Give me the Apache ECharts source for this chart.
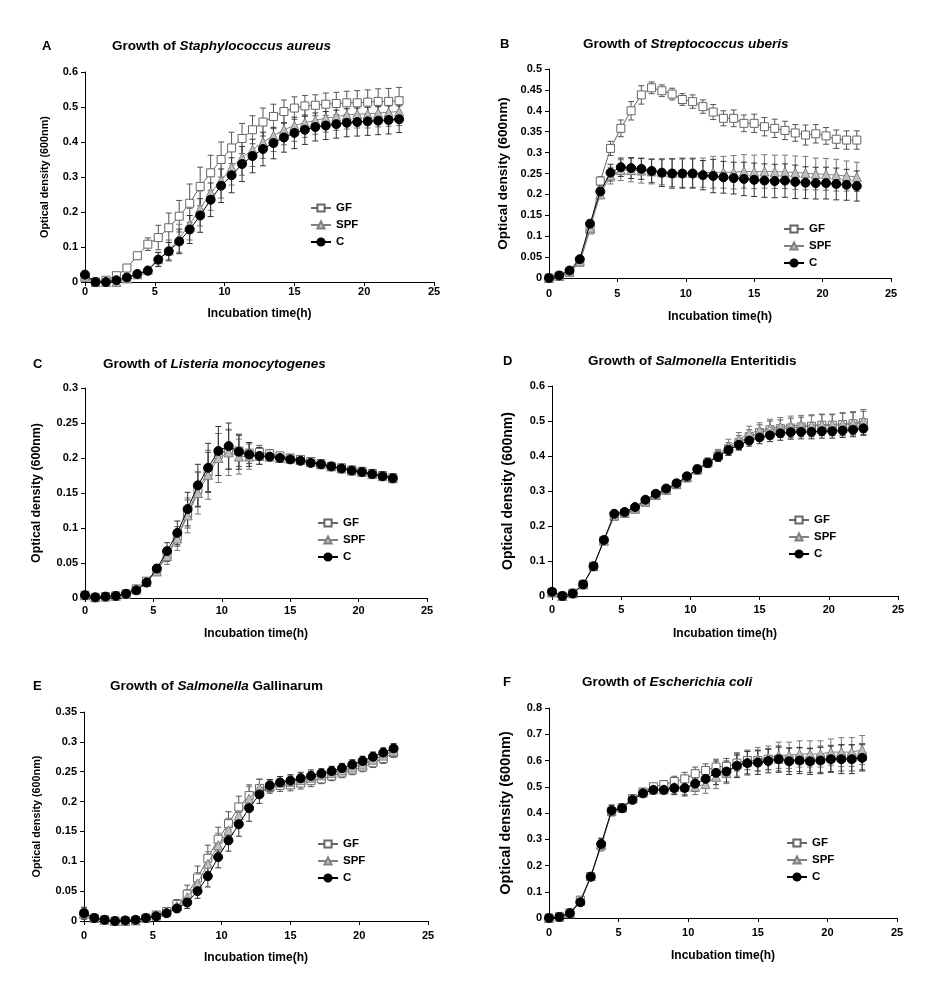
<!DOCTYPE html>
<html><head><meta charset="utf-8">
<script src="https://cdn.jsdelivr.net/npm/echarts@6/dist/echarts.min.js"></script>
<style>html,body{margin:0;padding:0;background:#fff;}#c{width:945px;height:1001px;}</style>
</head><body><div id="c"></div>
<script>
// Time points (h)
var time = [0,0.75,1.5,2.25,3,3.75,4.5,5.25,6,6.75,7.5,8.25,9,9.75,10.5,11.25,12,12.75,13.5,14.25,15,15.75,16.5,17.25,18,18.75,19.5,20.25,21,21.75,22.5];
var seriesNames = ['GF','SPF','C'];
var xTicks = [0,5,10,15,20,25];

// Panel A: Staphylococcus aureus
var A_GF  = [0.015,0,0.005,0.018,0.04,0.075,0.108,0.127,0.155,0.188,0.225,0.273,0.312,0.35,0.383,0.41,0.435,0.457,0.473,0.487,0.497,0.503,0.505,0.508,0.51,0.512,0.512,0.514,0.516,0.516,0.518];
var A_SPF = [0.015,0,0,0,0.01,0.022,0.035,0.065,0.09,0.125,0.165,0.21,0.255,0.29,0.327,0.355,0.378,0.4,0.418,0.435,0.447,0.455,0.462,0.468,0.473,0.477,0.48,0.48,0.483,0.485,0.487];
var A_C   = [0.021,0,0,0.005,0.013,0.023,0.032,0.064,0.088,0.116,0.15,0.19,0.235,0.275,0.305,0.337,0.36,0.38,0.397,0.413,0.426,0.435,0.443,0.447,0.451,0.455,0.457,0.459,0.461,0.463,0.465];
var A_GF_err  = [0.005,0.003,0.003,0.004,0.006,0.01,0.018,0.035,0.042,0.045,0.055,0.055,0.05,0.05,0.045,0.043,0.04,0.04,0.035,0.033,0.032,0.03,0.03,0.032,0.032,0.033,0.035,0.035,0.036,0.037,0.038];
var A_SPF_err = [0.005,0.003,0.003,0.004,0.005,0.006,0.01,0.02,0.03,0.04,0.045,0.05,0.05,0.05,0.05,0.05,0.048,0.047,0.045,0.043,0.045,0.042,0.04,0.04,0.04,0.04,0.04,0.04,0.04,0.04,0.04];
var A_C_err   = [0.01,0.003,0.003,0.004,0.005,0.006,0.008,0.02,0.025,0.035,0.04,0.048,0.048,0.048,0.05,0.05,0.048,0.048,0.045,0.042,0.045,0.042,0.04,0.04,0.04,0.04,0.04,0.04,0.04,0.04,0.038];

// Panel B: Streptococcus uberis
var B_GF  = [0,0.005,0.013,0.038,0.115,0.232,0.31,0.358,0.4,0.438,0.455,0.448,0.44,0.427,0.422,0.41,0.397,0.382,0.382,0.37,0.37,0.362,0.358,0.353,0.347,0.342,0.345,0.34,0.332,0.33,0.33];
var B_SPF = [0,0.005,0.015,0.04,0.12,0.2,0.245,0.258,0.258,0.257,0.255,0.253,0.252,0.252,0.252,0.252,0.253,0.253,0.253,0.255,0.254,0.255,0.254,0.254,0.252,0.251,0.249,0.248,0.246,0.244,0.242];
var B_C   = [0,0.006,0.018,0.045,0.13,0.207,0.252,0.265,0.263,0.261,0.256,0.252,0.25,0.25,0.25,0.246,0.244,0.241,0.239,0.237,0.235,0.233,0.232,0.233,0.23,0.228,0.227,0.227,0.225,0.223,0.22];
var B_GF_err  = [0.002,0.002,0.003,0.004,0.008,0.01,0.017,0.02,0.022,0.022,0.014,0.014,0.014,0.014,0.016,0.016,0.018,0.018,0.02,0.02,0.022,0.022,0.022,0.022,0.02,0.024,0.022,0.02,0.022,0.022,0.022];
var B_SPF_err = [0.002,0.002,0.003,0.004,0.008,0.01,0.02,0.025,0.028,0.03,0.03,0.03,0.033,0.035,0.035,0.035,0.038,0.038,0.04,0.04,0.04,0.04,0.04,0.04,0.04,0.04,0.038,0.038,0.038,0.036,0.035];
var B_C_err   = [0.002,0.002,0.003,0.004,0.008,0.01,0.02,0.022,0.025,0.025,0.028,0.033,0.035,0.035,0.035,0.035,0.04,0.038,0.038,0.04,0.04,0.04,0.04,0.04,0.04,0.038,0.038,0.038,0.038,0.037,0.036];

// Panel C: Listeria monocytogenes
var C_GF  = [0.004,0.001,0.002,0.003,0.006,0.013,0.024,0.04,0.062,0.088,0.12,0.155,0.18,0.205,0.212,0.21,0.207,0.208,0.206,0.203,0.2,0.198,0.195,0.192,0.188,0.186,0.183,0.181,0.178,0.175,0.172];
var C_SPF = [0.004,0.001,0.002,0.003,0.006,0.012,0.023,0.038,0.06,0.085,0.118,0.15,0.176,0.2,0.208,0.202,0.202,0.203,0.202,0.2,0.199,0.197,0.194,0.191,0.188,0.185,0.182,0.18,0.177,0.174,0.171];
var C_C   = [0.004,0.001,0.002,0.003,0.006,0.011,0.022,0.042,0.067,0.093,0.127,0.161,0.186,0.21,0.217,0.209,0.205,0.203,0.202,0.2,0.198,0.196,0.193,0.191,0.188,0.185,0.182,0.18,0.177,0.174,0.171];
var C_GF_err  = [0.002,0.001,0.001,0.001,0.002,0.003,0.004,0.006,0.01,0.014,0.02,0.025,0.028,0.03,0.028,0.022,0.015,0.01,0.006,0.005,0.005,0.005,0.005,0.005,0.005,0.005,0.005,0.005,0.005,0.005,0.005];
var C_SPF_err = [0.002,0.001,0.001,0.001,0.002,0.003,0.004,0.006,0.012,0.017,0.025,0.03,0.035,0.035,0.033,0.025,0.018,0.012,0.006,0.005,0.005,0.005,0.005,0.005,0.005,0.005,0.005,0.005,0.005,0.005,0.005];
var C_C_err   = [0.002,0.001,0.001,0.001,0.002,0.003,0.004,0.006,0.012,0.017,0.024,0.03,0.035,0.035,0.033,0.025,0.017,0.012,0.006,0.005,0.005,0.005,0.005,0.005,0.005,0.005,0.005,0.005,0.005,0.005,0.005];

// Panel D: Salmonella Enteritidis
var D_GF  = [0.01,0,0.008,0.033,0.085,0.158,0.228,0.236,0.248,0.268,0.287,0.302,0.318,0.338,0.36,0.38,0.4,0.42,0.438,0.455,0.467,0.475,0.478,0.48,0.483,0.485,0.488,0.488,0.49,0.492,0.495];
var D_SPF = [0.01,0,0.008,0.033,0.085,0.158,0.23,0.238,0.25,0.27,0.289,0.304,0.32,0.34,0.362,0.382,0.404,0.428,0.447,0.465,0.473,0.48,0.484,0.486,0.488,0.488,0.49,0.49,0.492,0.495,0.5];
var D_C   = [0.012,0,0.007,0.033,0.085,0.16,0.235,0.24,0.254,0.275,0.292,0.307,0.322,0.342,0.362,0.38,0.398,0.417,0.432,0.444,0.453,0.459,0.465,0.468,0.469,0.469,0.471,0.471,0.473,0.475,0.479];
var D_GF_err  = [0.003,0.002,0.003,0.004,0.004,0.005,0.005,0.005,0.006,0.007,0.008,0.008,0.01,0.012,0.012,0.013,0.015,0.018,0.02,0.02,0.022,0.025,0.025,0.028,0.028,0.03,0.03,0.03,0.032,0.032,0.033];
var D_SPF_err = [0.003,0.002,0.003,0.004,0.004,0.005,0.005,0.005,0.006,0.007,0.008,0.008,0.01,0.012,0.012,0.013,0.015,0.02,0.02,0.02,0.022,0.025,0.026,0.028,0.028,0.03,0.03,0.03,0.032,0.032,0.033];
var D_C_err   = [0.003,0.002,0.003,0.004,0.004,0.005,0.005,0.005,0.006,0.007,0.008,0.008,0.01,0.01,0.012,0.012,0.013,0.015,0.015,0.016,0.018,0.018,0.02,0.02,0.02,0.02,0.02,0.02,0.02,0.02,0.02];

// Panel E: Salmonella Gallinarum
var E_GF  = [0.012,0.005,0.002,0,0,0.001,0.005,0.01,0.016,0.028,0.045,0.072,0.105,0.137,0.163,0.191,0.21,0.222,0.224,0.227,0.228,0.231,0.235,0.238,0.243,0.248,0.253,0.258,0.265,0.272,0.282];
var E_SPF = [0.012,0.005,0.002,0,0,0.001,0.005,0.009,0.015,0.025,0.04,0.063,0.096,0.127,0.152,0.177,0.205,0.223,0.226,0.232,0.233,0.236,0.24,0.244,0.248,0.252,0.257,0.262,0.27,0.277,0.285];
var E_C   = [0.013,0.005,0.002,0,0.001,0.002,0.005,0.008,0.013,0.021,0.031,0.05,0.075,0.107,0.135,0.162,0.189,0.212,0.227,0.232,0.235,0.239,0.243,0.247,0.251,0.256,0.262,0.268,0.275,0.282,0.289];
var E_GF_err  = [0.008,0.004,0.002,0.002,0.002,0.002,0.002,0.004,0.005,0.008,0.015,0.02,0.022,0.02,0.02,0.018,0.018,0.015,0.01,0.01,0.01,0.01,0.01,0.008,0.008,0.008,0.008,0.008,0.008,0.008,0.008];
var E_SPF_err = [0.008,0.004,0.002,0.002,0.002,0.002,0.002,0.004,0.005,0.008,0.012,0.018,0.02,0.02,0.02,0.018,0.02,0.015,0.01,0.01,0.01,0.01,0.01,0.008,0.008,0.008,0.008,0.008,0.008,0.008,0.008];
var E_C_err   = [0.01,0.004,0.002,0.002,0.002,0.002,0.002,0.004,0.005,0.006,0.01,0.012,0.018,0.018,0.018,0.02,0.022,0.015,0.01,0.01,0.01,0.01,0.01,0.008,0.008,0.008,0.008,0.008,0.008,0.008,0.008];

// Panel F: Escherichia coli
var F_GF  = [0,0.005,0.02,0.068,0.158,0.275,0.405,0.42,0.455,0.48,0.5,0.508,0.52,0.53,0.55,0.562,0.575,0.578,0.59,0.6,0.6,0.605,0.605,0.603,0.603,0.6,0.605,0.608,0.61,0.61,0.615];
var F_SPF = [0,0.005,0.018,0.065,0.16,0.28,0.41,0.42,0.455,0.478,0.49,0.49,0.5,0.5,0.5,0.51,0.538,0.552,0.585,0.595,0.605,0.61,0.62,0.62,0.625,0.625,0.625,0.632,0.632,0.632,0.64];
var F_C   = [0,0.004,0.018,0.06,0.157,0.282,0.41,0.418,0.45,0.475,0.488,0.488,0.495,0.495,0.512,0.53,0.553,0.558,0.58,0.59,0.592,0.598,0.605,0.597,0.6,0.597,0.6,0.605,0.605,0.605,0.61];
var F_GF_err  = [0.003,0.003,0.005,0.008,0.01,0.012,0.015,0.012,0.012,0.012,0.012,0.015,0.02,0.025,0.025,0.025,0.03,0.03,0.03,0.035,0.04,0.04,0.045,0.045,0.045,0.045,0.05,0.05,0.05,0.05,0.05];
var F_SPF_err = [0.003,0.003,0.005,0.008,0.01,0.025,0.02,0.015,0.012,0.012,0.015,0.015,0.025,0.03,0.03,0.035,0.045,0.04,0.045,0.045,0.045,0.045,0.05,0.05,0.05,0.05,0.05,0.05,0.055,0.055,0.055];
var F_C_err   = [0.003,0.003,0.005,0.008,0.01,0.02,0.02,0.015,0.012,0.012,0.015,0.015,0.025,0.03,0.03,0.035,0.045,0.04,0.045,0.045,0.045,0.045,0.05,0.05,0.05,0.05,0.05,0.05,0.055,0.055,0.05];

var yMax = [0.6, 0.5, 0.3, 0.6, 0.35, 0.8];
var yStep = [0.1, 0.05, 0.05, 0.1, 0.05, 0.1];

var panels = [
  {letter:'A', pre:'Growth of ', it:'Staphylococcus aureus', post:'', vals:[A_GF,A_SPF,A_C], errs:[A_GF_err,A_SPF_err,A_C_err],
   grid:{left:85,top:72,width:349,height:210}, letterX:42, titleX:112, titleY:47, legX:310, legY:208,
   yNameGap:34, yNameSize:10.8, xLabMargin:4, xNameGap:26},
  {letter:'B', pre:'Growth of ', it:'Streptococcus uberis', post:'', vals:[B_GF,B_SPF,B_C], errs:[B_GF_err,B_SPF_err,B_C_err],
   grid:{left:549,top:69,width:342,height:209}, letterX:500, titleX:583, titleY:45, legX:783, legY:229,
   yNameGap:39, yNameSize:13.5, xLabMargin:10, xNameGap:33},
  {letter:'C', pre:'Growth of ', it:'Listeria monocytogenes', post:'', vals:[C_GF,C_SPF,C_C], errs:[C_GF_err,C_SPF_err,C_C_err],
   grid:{left:85,top:388,width:342,height:210}, letterX:33, titleX:103, titleY:365, legX:317, legY:523,
   yNameGap:42, yNameSize:12.4, xLabMargin:7, xNameGap:30},
  {letter:'D', pre:'Growth of ', it:'Salmonella', post:' Enteritidis', vals:[D_GF,D_SPF,D_C], errs:[D_GF_err,D_SPF_err,D_C_err],
   grid:{left:552,top:386,width:346,height:210}, letterX:503, titleX:588, titleY:362, legX:788, legY:520,
   yNameGap:37, yNameSize:14, xLabMargin:8, xNameGap:32},
  {letter:'E', pre:'Growth of ', it:'Salmonella', post:' Gallinarum', vals:[E_GF,E_SPF,E_C], errs:[E_GF_err,E_SPF_err,E_C_err],
   grid:{left:84,top:712,width:344,height:209}, letterX:33, titleX:110, titleY:687, legX:317, legY:844,
   yNameGap:41, yNameSize:10.8, xLabMargin:9, xNameGap:31},
  {letter:'F', pre:'Growth of ', it:'Escherichia coli', post:'', vals:[F_GF,F_SPF,F_C], errs:[F_GF_err,F_SPF_err,F_C_err],
   grid:{left:549,top:708,width:348,height:210}, letterX:503, titleX:582, titleY:683, legX:786, legY:843,
   yNameGap:36, yNameSize:14.5, xLabMargin:9, xNameGap:32}
];

var FONT = '"Liberation Sans", Arial, sans-serif';
var styles = [
  {symbol:'rect', size:8, fill:'#ffffff', border:'#666666', line:'#666666', err:'#555555'},
  {symbol:'triangle', size:9, fill:'#bfbfbf', border:'#808080', line:'#808080', err:'#777777'},
  {symbol:'circle', size:9, fill:'#000000', border:'#000000', line:'#000000', err:'#333333'}
];

var option = {backgroundColor:'#ffffff', animation:false, grid:[], xAxis:[], yAxis:[], series:[], title:[], legend:[]};

panels.forEach(function(p, k){
  option.grid.push({left:p.grid.left, top:p.grid.top, width:p.grid.width, height:p.grid.height, containLabel:false});
  option.xAxis.push({type:'value', gridIndex:k, min:0, max:25, interval:5,
    name:'Incubation time(h)', nameLocation:'middle', nameGap:p.xNameGap,
    nameTextStyle:{fontFamily:FONT, fontWeight:'bold', fontSize:12, color:'#000'},
    axisLine:{lineStyle:{color:'#000', width:1}}, axisTick:{length:4, lineStyle:{color:'#000'}},
    axisLabel:{fontFamily:FONT, fontWeight:'bold', fontSize:11, color:'#000', margin:p.xLabMargin},
    splitLine:{show:false}});
  option.yAxis.push({type:'value', gridIndex:k, min:0, max:yMax[k], interval:yStep[k],
    name:'Optical density (600nm)', nameLocation:'middle', nameGap:p.yNameGap,
    nameTextStyle:{fontFamily:FONT, fontWeight:'bold', fontSize:p.yNameSize, color:'#000'},
    axisLine:{show:true, lineStyle:{color:'#000', width:1}}, axisTick:{show:true, length:4, lineStyle:{color:'#000'}},
    axisLabel:{fontFamily:FONT, fontWeight:'bold', fontSize:11, color:'#000', margin:7},
    splitLine:{show:false}});
  option.title.push({text:p.letter, left:p.letterX, top:p.titleY-7, padding:0,
    textStyle:{fontFamily:FONT, fontWeight:'bold', fontSize:13, color:'#000'}});
  option.title.push({text:p.pre + '{i|' + p.it + '}' + p.post, left:p.titleX, top:p.titleY-8, padding:0,
    textStyle:{fontFamily:FONT, fontWeight:'bold', fontSize:13.5, color:'#000',
      rich:{i:{fontFamily:FONT, fontWeight:'bold', fontStyle:'italic', fontSize:13.5, color:'#000'}}}});
  option.legend.push({orient:'vertical', left:p.legX, top:p.legY-7, data:seriesNames, padding:0,
    itemWidth:20, itemHeight:9, itemGap:3,
    textStyle:{fontFamily:FONT, fontWeight:'bold', fontSize:11.5, color:'#000', lineHeight:14}});

  for (var s = 0; s < 3; s++) {
    (function(s){
      var st = styles[s];
      var vals = p.vals[s], errs = p.errs[s];
      var errData = time.map(function(t,i){ return [t, vals[i], errs[i]]; });
      option.series.push({type:'custom', name:seriesNames[s]+'_err'+k, xAxisIndex:k, yAxisIndex:k, z:1, silent:true,
        data:errData,
        renderItem:function(params, api){
          var x = api.value(0), y = api.value(1), e = api.value(2);
          var hi = api.coord([x, y + e]), lo = api.coord([x, Math.max(0, y - e)]);
          var hw = 3;
          return {type:'group', children:[
            {type:'line', shape:{x1:hi[0], y1:hi[1], x2:lo[0], y2:lo[1]}, style:{stroke:st.err, lineWidth:1}},
            {type:'line', shape:{x1:hi[0]-hw, y1:hi[1], x2:hi[0]+hw, y2:hi[1]}, style:{stroke:st.err, lineWidth:1}},
            {type:'line', shape:{x1:lo[0]-hw, y1:lo[1], x2:lo[0]+hw, y2:lo[1]}, style:{stroke:st.err, lineWidth:1}}
          ]};
        }});
      option.series.push({type:'line', name:seriesNames[s], xAxisIndex:k, yAxisIndex:k, z:2+s,
        data:time.map(function(t,i){ return [t, vals[i]]; }),
        symbol:st.symbol, symbolSize:st.size, showAllSymbol:true,
        lineStyle:{color:st.line, width:1},
        itemStyle:{color:st.fill, borderColor:st.border, borderWidth:1}});
    })(s);
  }
});

var chart = echarts.init(document.getElementById('c'), null, {renderer:'canvas'});
chart.setOption(option);
</script>
</body></html>
